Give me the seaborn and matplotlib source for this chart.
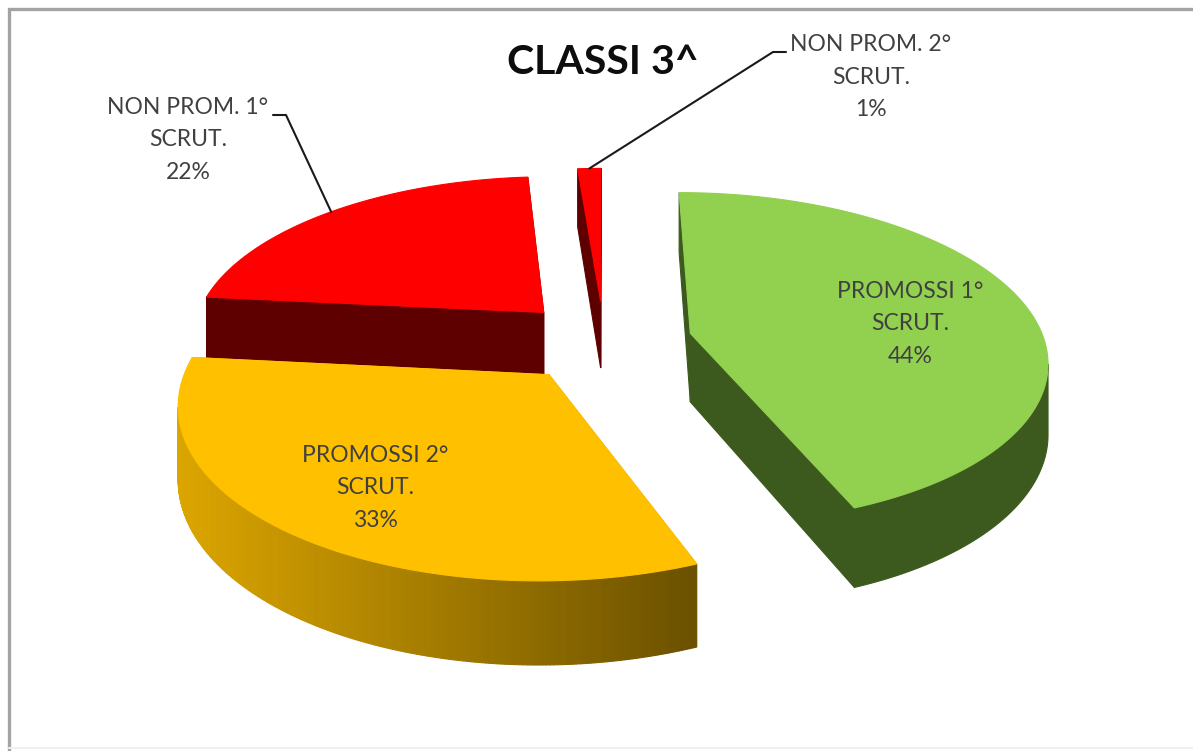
import matplotlib.pyplot as plt
import numpy as np
import seaborn as sns

# Slices clockwise from 12 o'clock, estimated from the angles in the picture
LABELS = ["PROMOSSI 1°\nSCRUT.", "PROMOSSI 2°\nSCRUT.", "NON PROM. 1°\nSCRUT.", "NON PROM. 2°\nSCRUT."]
VALUES = [44.0, 32.6, 22.15, 1.25]
TITLE = "CLASSI 3^"

TOP_COLORS = ["#92D050", "#FFC000", "#FF0000", "#FF0000"]
WALL_LIGHT = ["#3C5A1E", "#DBA500", "#5E0000", "#5E0000"]
WALL_DARK = ["#3C5A1E", "#6A5000", "#5E0000", "#5E0000"]
TEXT_COLOR = "#404040"

# Layout of the label text, in pixels
LABEL_POS = [(910, 324), (375, 488), (188, 140), (871, 77)]
ELBOWS = [None, None, [(273, 115), (286, 115)], [(786, 52), (773, 52)]]

# Fake 3D camera, in pixels
CX, CY = 604, 341
RX, RY = 354, 164
K = 0.15
DEPTH = 69
EXPLODE = 0.25

W, H = 1193, 751


def project(x, y, d=0.0):
    s = 1 / (1 + K * y)
    return CX + RX * x * s, CY - RY * y * s + DEPTH * d * s


def poly(ax, px, py, color, z):
    ax.fill(px, py, fc=color, ec=color, lw=0.8, zorder=z)


def draw_slice(ax, i, start, end, z):
    mid = (start + end) / 2
    ox, oy = EXPLODE * np.sin(mid), EXPLODE * np.cos(mid)
    n = max(int(np.degrees(end - start)) * 2, 4)
    t = np.linspace(start, end, n)
    x = np.sin(t) + ox
    y = np.cos(t) + oy

    # radial walls first, top face last
    for ex, ey in ((x[0], y[0]), (x[-1], y[-1])):
        ax0, ay0 = project(ox, oy)
        ax1, ay1 = project(ex, ey)
        bx0, by0 = project(ox, oy, 1)
        bx1, by1 = project(ex, ey, 1)
        poly(ax, [ax0, ax1, bx1, bx0], [ay0, ay1, by1, by0], WALL_LIGHT[i], z)

    # outer wall, from silhouette to silhouette
    tx, ty = project(x, y)
    bx, by = project(x, y, 1)
    a, b = np.argmax(tx), np.argmin(tx)
    stop = b + 1 if a < b else n
    nx, ny = tx[a:stop], ty[a:stop]
    mx, my = bx[a:stop], by[a:stop]
    if len(nx) >= 2:
        if WALL_LIGHT[i] == WALL_DARK[i]:
            poly(ax, np.r_[nx, mx[::-1]], np.r_[ny, my[::-1]], WALL_LIGHT[i], z)
        else:
            # shaded along the screen width
            ramp = sns.blend_palette([WALL_LIGHT[i], WALL_DARK[i]], n_colors=100)
            lo, hi = nx.min(), nx.max()
            for j in range(len(nx) - 1):
                f = ((nx[j] + nx[j + 1]) / 2 - lo) / (hi - lo)
                poly(ax, [nx[j], nx[j + 1], mx[j + 1], mx[j]], [ny[j], ny[j + 1], my[j + 1], my[j]], ramp[int(f * 99)], z)

    ax0, ay0 = project(ox, oy)
    poly(ax, np.r_[ax0, tx], np.r_[ay0, ty], TOP_COLORS[i], z + 0.5)


def main():
    sns.set_theme(style="white")
    plt.rcParams["font.family"] = ["Lato", "DejaVu Sans"]

    fig = plt.figure(figsize=(W / 100, H / 100), dpi=100)
    ax = fig.add_axes([0, 0, 1, 1])
    ax.set_xlim(0, W)
    ax.set_ylim(H, 0)
    ax.axis("off")

    # Chart frame
    ax.plot([9, 9, W], [H, 9, 9], color="#A3A3A3", lw=2.4, solid_joinstyle="miter", zorder=1)
    ax.plot([9, W], [748, 748], color="#F0F0F0", lw=1.5, zorder=1)

    edges = np.r_[0, np.cumsum(VALUES)] / np.sum(VALUES) * 2 * np.pi

    # far slices before near ones
    for z, i in enumerate([3, 2, 0, 1]):
        draw_slice(ax, i, edges[i], edges[i + 1], 2 + z)

    for i, (label, value) in enumerate(zip(LABELS, VALUES)):
        ax.text(*LABEL_POS[i], f"{label}\n{value:.0f}%", ha="center", va="center", fontsize=16.5,
                color=TEXT_COLOR, linespacing=1.68, zorder=10)
        if ELBOWS[i]:
            mid = (edges[i] + edges[i + 1]) / 2
            tip = project((1 + EXPLODE) * np.sin(mid), (1 + EXPLODE) * np.cos(mid))
            pts = np.array(ELBOWS[i] + [tip])
            ax.plot(pts[:, 0], pts[:, 1], color="#1A1A1A", lw=1.5, zorder=9)

    ax.text(603, 63, TITLE, ha="center", va="center", fontsize=29.5, fontweight="bold", color="#0D0D0D", zorder=10)

    fig.savefig("out.png", dpi=100, facecolor="white")


if __name__ == "__main__":
    main()
